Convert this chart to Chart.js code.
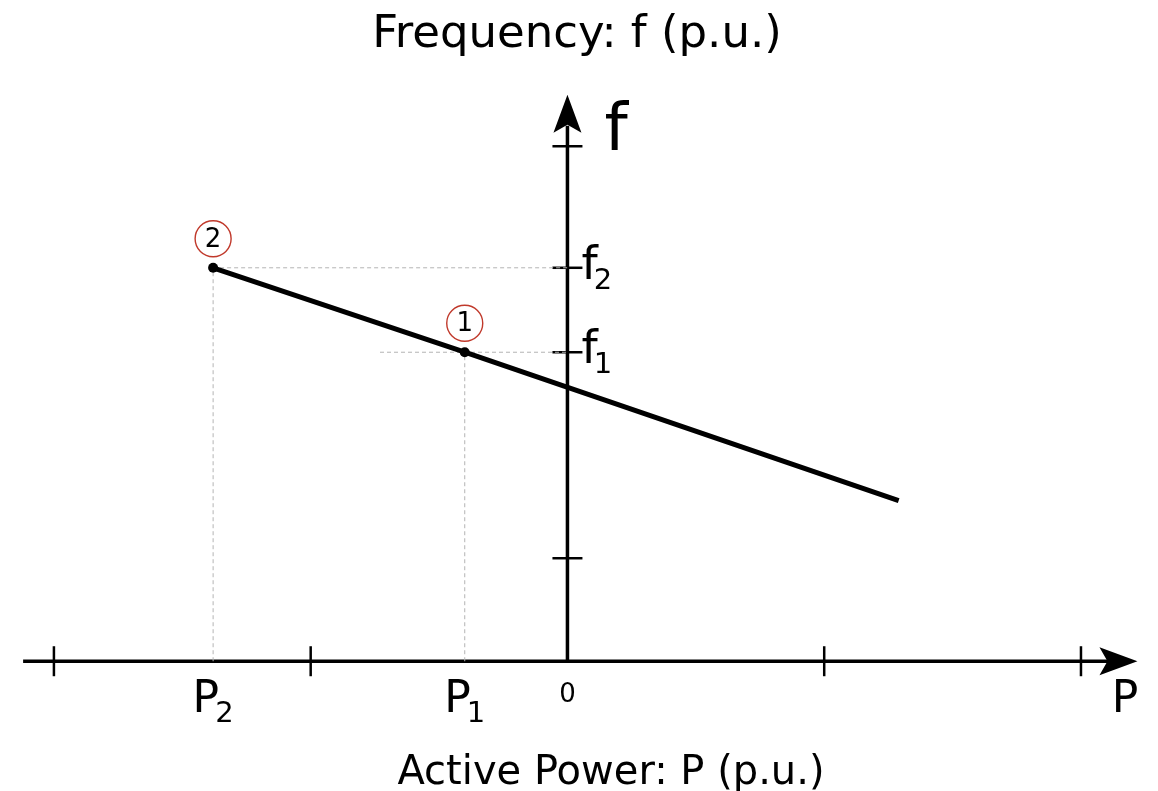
<!DOCTYPE html>
<html>
<head>
<meta charset="utf-8">
<script src="https://cdn.jsdelivr.net/npm/chart.js@4"></script>
<style>
  html, body { margin: 0; padding: 0; background: #fff; }
  #box { width: 1158px; height: 791px; position: relative; }
</style>
</head>
<body>
<div id="box"><canvas id="droop"></canvas></div>
<script>
// P-f droop characteristic, per unit
const powerTicks = [-2, -1, 0, 1, 2];
const freqTicks = [1, 5];
const droopP = [-1.38, -0.40, 1.29];
const droopF = [3.82, 3.0, 1.56];
const opPoints = ['2', '1'];           // operating points, same order as droopP
const powerNames = ['P2', 'P1'];
const freqNames = ['f2', 'f1'];
const freqGuideStart = [-1.38, -0.73]; // where the horizontal dashed guides begin

const FONT = '"DejaVu Sans", Verdana, sans-serif';

function subText(c, main, sub, x, y, size, subSize, align) {
  c.font = size + 'px ' + FONT;
  const w1 = c.measureText(main).width;
  c.font = subSize + 'px ' + FONT;
  const w2 = c.measureText(sub).width;
  const gap = -4;
  const total = w1 + gap + w2;
  let left = x;
  if (align === 'center') left = x - total / 2;
  c.textAlign = 'left';
  c.textBaseline = 'alphabetic';
  c.font = size + 'px ' + FONT;
  c.fillText(main, left, y);
  c.font = subSize + 'px ' + FONT;
  c.fillText(sub, left + w1 + gap, y + 10);
}

function arrowHead(c, tx, ty, dx, dy) {
  // stealth style head pointing along (dx, dy)
  const len = 38, half = 14, notch = 30;
  const nx = -dy, ny = dx;
  c.beginPath();
  c.moveTo(tx, ty);
  c.lineTo(tx - dx * len + nx * half, ty - dy * len + ny * half);
  c.lineTo(tx - dx * notch, ty - dy * notch);
  c.lineTo(tx - dx * len - nx * half, ty - dy * len - ny * half);
  c.closePath();
  c.fill();
}

const droopAxes = {
  id: 'droopAxes',
  beforeDatasetsDraw(chart) {
    const c = chart.ctx;
    const x = chart.scales.x, y = chart.scales.y;
    const x0 = x.getPixelForValue(0), y0 = y.getPixelForValue(0);
    c.save();
    c.strokeStyle = '#000';
    c.fillStyle = '#000';
    c.lineCap = 'butt';

    // power axis
    c.lineWidth = 3.5;
    c.beginPath();
    c.moveTo(x.getPixelForValue(-2.12), y0);
    c.lineTo(x.getPixelForValue(2.12), y0);
    c.stroke();
    arrowHead(c, x.getPixelForValue(2.22), y0, 1, 0);

    // frequency axis
    c.beginPath();
    c.moveTo(x0, y0);
    c.lineTo(x0, y.getPixelForValue(5.2));
    c.stroke();
    arrowHead(c, x0, y.getPixelForValue(5.5), 0, -1);

    // tick marks
    c.lineWidth = 2.5;
    powerTicks.forEach(v => {
      if (v === 0) return;
      const px = x.getPixelForValue(v);
      c.beginPath();
      c.moveTo(px, y0 - 15);
      c.lineTo(px, y0 + 15);
      c.stroke();
    });
    freqTicks.concat(droopF.slice(0, 2)).forEach(v => {
      const py = y.getPixelForValue(v);
      c.beginPath();
      c.moveTo(x0 - 15, py);
      c.lineTo(x0 + 15, py);
      c.stroke();
    });
    c.restore();
  },
  afterDatasetsDraw(chart) {
    const c = chart.ctx;
    const x = chart.scales.x, y = chart.scales.y;
    const x0 = x.getPixelForValue(0), y0 = y.getPixelForValue(0);
    c.save();
    c.fillStyle = '#000';

    // circled operating point numbers
    opPoints.forEach((name, i) => {
      const px = x.getPixelForValue(droopP[i]);
      const py = y.getPixelForValue(droopF[i]) - 29;
      c.beginPath();
      c.arc(px, py, 18, 0, Math.PI * 2);
      c.strokeStyle = '#c0392b';
      c.lineWidth = 1.4;
      c.stroke();
      c.font = '26px ' + FONT;
      c.textAlign = 'center';
      c.textBaseline = 'middle';
      c.fillText(name, px, py + 1);
    });

    // P2, P1 under the power axis
    powerNames.forEach((name, i) => {
      subText(c, name[0], name.slice(1), x.getPixelForValue(droopP[i]), y0 + 51, 44, 29, 'center');
    });
    c.font = '26px ' + FONT;
    c.textAlign = 'center';
    c.textBaseline = 'alphabetic';
    c.fillText('0', x0, y0 + 41);

    // f2, f1 next to the frequency axis
    freqNames.forEach((name, i) => {
      subText(c, name[0], name.slice(1), x0 + 14, y.getPixelForValue(droopF[i]) + 11, 46, 29, 'left');
    });

    // axis letters
    c.textAlign = 'left';
    c.textBaseline = 'alphabetic';
    c.font = '66px ' + FONT;
    c.fillText('f', x0 + 37, y.getPixelForValue(5.5) + 55);
    c.font = '44px ' + FONT;
    c.fillText('P', x.getPixelForValue(2.12), y0 + 51);

    // axis titles
    c.textAlign = 'center';
    c.font = '45px ' + FONT;
    c.fillText('Frequency: f (p.u.)', 577, 47);
    c.font = '40px ' + FONT;
    c.fillText('Active Power: P (p.u.)', 611, 784);
    c.restore();
  }
};

const guide = {
  borderColor: '#b4b4b4',
  borderWidth: 1,
  borderDash: [4, 3],
  pointRadius: 0,
  tension: 0
};

const ctx = document.getElementById('droop');

new Chart(ctx, {
  type: 'line',
  data: {
    datasets: [
      {
        label: 'Droop',
        data: droopP.map((p, i) => ({ x: p, y: droopF[i] })),
        borderColor: '#000',
        borderWidth: 5,
        pointRadius: [5, 5, 0],
        pointBackgroundColor: '#000',
        pointBorderWidth: 0,
        tension: 0
      },
      Object.assign({ data: [{ x: droopP[0], y: 0 }, { x: droopP[0], y: droopF[0] }] }, guide),
      Object.assign({ data: [{ x: freqGuideStart[0], y: droopF[0] }, { x: 0, y: droopF[0] }] }, guide),
      Object.assign({ data: [{ x: droopP[1], y: 0 }, { x: droopP[1], y: droopF[1] }] }, guide),
      Object.assign({ data: [{ x: freqGuideStart[1], y: droopF[1] }, { x: 0, y: droopF[1] }] }, guide)
    ]
  },
  options: {
    responsive: true,
    maintainAspectRatio: false,
    animation: false,
    events: [],
    layout: { padding: 0, autoPadding: false },
    plugins: {
      legend: { display: false },
      tooltip: { enabled: false },
      title: { display: false }
    },
    scales: {
      x: { type: 'linear', min: -2.21, max: 2.3, display: false },
      y: { type: 'linear', min: -1.26, max: 6.42, display: false }
    }
  },
  plugins: [droopAxes]
});
</script>
</body>
</html>
